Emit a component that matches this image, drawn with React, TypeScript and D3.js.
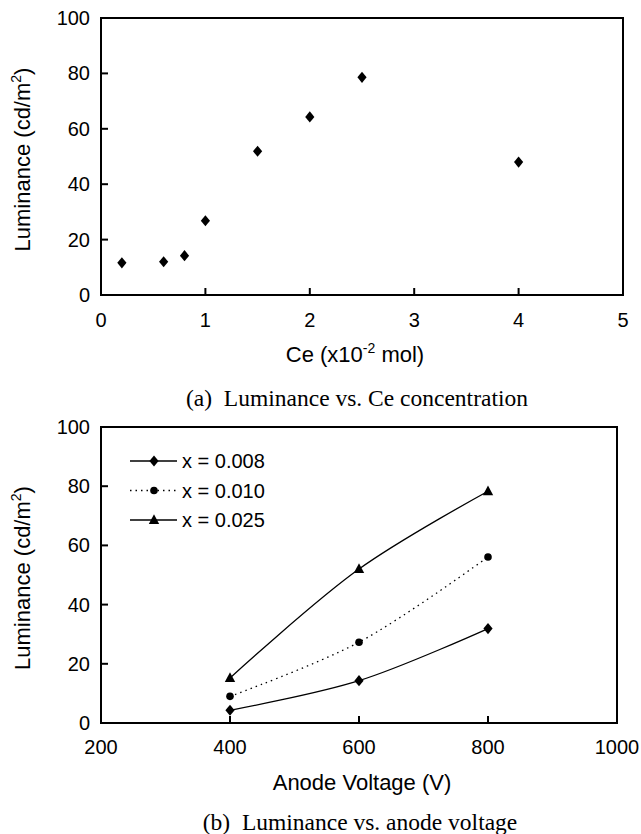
import React from "react";
import * as d3 from "d3";

// ---- data ----
const ceConc = [0.2, 0.6, 0.8, 1.0, 1.5, 2.0, 2.5, 4.0];
const ceLum = [11.6, 12.0, 14.2, 26.8, 51.9, 64.3, 78.6, 48.0];

const voltages = [400, 600, 800];
const lum008 = [4.3, 14.3, 31.9];
const lum010 = [9.0, 27.3, 56.1];
const lum025 = [15.2, 52.0, 78.3];
const seriesLabels = ["x = 0.008", "x = 0.010", "x = 0.025"];
const seriesMarkers = ["diamond", "circle", "triangle"];
const seriesDash = [null, "1.5,4", null];

const topXTicks = [0, 1, 2, 3, 4, 5];
const yTicks = [0, 20, 40, 60, 80, 100];
const bottomXTicks = [200, 400, 600, 800, 1000];

const SANS = "'Liberation Sans', Arial, sans-serif";
const SERIF = "'Liberation Serif', 'Times New Roman', serif";

function Marker({ type, x, y }: { type: string; x: number; y: number }) {
  if (type === "diamond") {
    const w = 4.6, h = 5.6;
    return <path d={`M${x},${y - h}L${x + w},${y}L${x},${y + h}L${x - w},${y}Z`} fill="#000" />;
  }
  if (type === "circle") {
    return <circle cx={x} cy={y} r={3.8} fill="#000" />;
  }
  const s = 5.2;
  return <path d={`M${x},${y - s - 0.6}L${x + s},${y + s * 0.75}L${x - s},${y + s * 0.75}Z`} fill="#000" />;
}

function Frame({ x0, x1, y0, y1 }: { x0: number; x1: number; y0: number; y1: number }) {
  return <rect x={x0} y={y0} width={x1 - x0} height={y1 - y0} fill="none" stroke="#000" strokeWidth={2} />;
}

export default function App() {
  // top chart
  const tL = 101, tR = 623, tT = 18, tB = 295;
  const xA = d3.scaleLinear().domain([0, 5]).range([tL, tR]);
  const yA = d3.scaleLinear().domain([0, 100]).range([tB, tT]);

  // bottom chart
  const bL = 101, bR = 617, bT = 427, bB = 723;
  const xB = d3.scaleLinear().domain([200, 1000]).range([bL, bR]);
  const yB = d3.scaleLinear().domain([0, 100]).range([bB, bT]);

  const series = [lum008, lum010, lum025];
  const line = d3
    .line<[number, number]>()
    .x((d) => xB(d[0]))
    .y((d) => yB(d[1]))
    .curve(d3.curveCatmullRom.alpha(0.5));

  const tickLen = 7;

  return (
    <svg
      width={641}
      height={834}
      style={{ position: "absolute", left: 0, top: 0, background: "#fff" }}
      fontFamily={SANS}
    >
      <rect x={0} y={0} width={641} height={834} fill="#fff" />

      {/* ===== Top chart ===== */}
      <Frame x0={tL} x1={tR} y0={tT} y1={tB} />
      {yTicks.map((v) => (
        <g key={"ya" + v}>
          <line x1={tL} x2={tL + tickLen} y1={yA(v)} y2={yA(v)} stroke="#000" strokeWidth={2} />
          <text x={tL - 11} y={yA(v)} textAnchor="end" dominantBaseline="central" fontSize={20}>
            {v}
          </text>
        </g>
      ))}
      {topXTicks.map((v) => (
        <g key={"xa" + v}>
          <line x1={xA(v)} x2={xA(v)} y1={tB} y2={tB - tickLen} stroke="#000" strokeWidth={2} />
          <text x={xA(v)} y={tB + 25} textAnchor="middle" dominantBaseline="central" fontSize={20}>
            {v}
          </text>
        </g>
      ))}
      {ceConc.map((c, i) => (
        <Marker key={"pa" + i} type="diamond" x={xA(c)} y={yA(ceLum[i])} />
      ))}
      <text x={355} y={362} textAnchor="middle" fontSize={22}>
        Ce (x10
        <tspan fontSize={14} dy={-9}>-2</tspan>
        <tspan dy={9}> mol)</tspan>
      </text>
      <text
        transform={`translate(30,${(tT + tB) / 2 + 3}) rotate(-90)`}
        textAnchor="middle"
        fontSize={22}
      >
        Luminance (cd/m
        <tspan fontSize={14} dy={-9}>2</tspan>
        <tspan dy={9}>)</tspan>
      </text>
      <text x={357} y={406} textAnchor="middle" fontFamily={SERIF} fontSize={23.5}>
        (a)&#160; Luminance vs. Ce concentration
      </text>

      {/* ===== Bottom chart ===== */}
      <Frame x0={bL} x1={bR} y0={bT} y1={bB} />
      {yTicks.map((v) => (
        <g key={"yb" + v}>
          <line x1={bL} x2={bL + tickLen} y1={yB(v)} y2={yB(v)} stroke="#000" strokeWidth={2} />
          <text x={bL - 11} y={yB(v)} textAnchor="end" dominantBaseline="central" fontSize={20}>
            {v}
          </text>
        </g>
      ))}
      {bottomXTicks.map((v) => (
        <g key={"xb" + v}>
          <line x1={xB(v)} x2={xB(v)} y1={bB} y2={bB - tickLen} stroke="#000" strokeWidth={2} />
          <text x={xB(v)} y={bB + 24} textAnchor="middle" dominantBaseline="central" fontSize={20}>
            {v}
          </text>
        </g>
      ))}
      {series.map((s, si) => (
        <g key={"s" + si}>
          <path
            d={line(voltages.map((v, i) => [v, s[i]] as [number, number])) || ""}
            fill="none"
            stroke="#000"
            strokeWidth={1.3}
            strokeDasharray={seriesDash[si] || undefined}
          />
          {voltages.map((v, i) => (
            <Marker key={i} type={seriesMarkers[si]} x={xB(v)} y={yB(s[i])} />
          ))}
        </g>
      ))}
      {/* legend */}
      {seriesLabels.map((lab, i) => {
        const ly = 461 + i * 29.5;
        return (
          <g key={"lg" + i}>
            <line
              x1={130}
              x2={177}
              y1={ly}
              y2={ly}
              stroke="#000"
              strokeWidth={1.3}
              strokeDasharray={seriesDash[i] || undefined}
            />
            <Marker type={seriesMarkers[i]} x={154} y={ly} />
            <text x={182} y={ly} dominantBaseline="central" fontSize={20}>
              {lab}
            </text>
          </g>
        );
      })}
      <text x={362} y={790} textAnchor="middle" fontSize={22}>
        Anode Voltage (V)
      </text>
      <text
        transform={`translate(30,${(bT + bB) / 2 + 3}) rotate(-90)`}
        textAnchor="middle"
        fontSize={22}
      >
        Luminance (cd/m
        <tspan fontSize={14} dy={-9}>2</tspan>
        <tspan dy={9}>)</tspan>
      </text>
      <text x={360} y={830} textAnchor="middle" fontFamily={SERIF} fontSize={23.5}>
        (b)&#160; Luminance vs. anode voltage
      </text>
    </svg>
  );
}
